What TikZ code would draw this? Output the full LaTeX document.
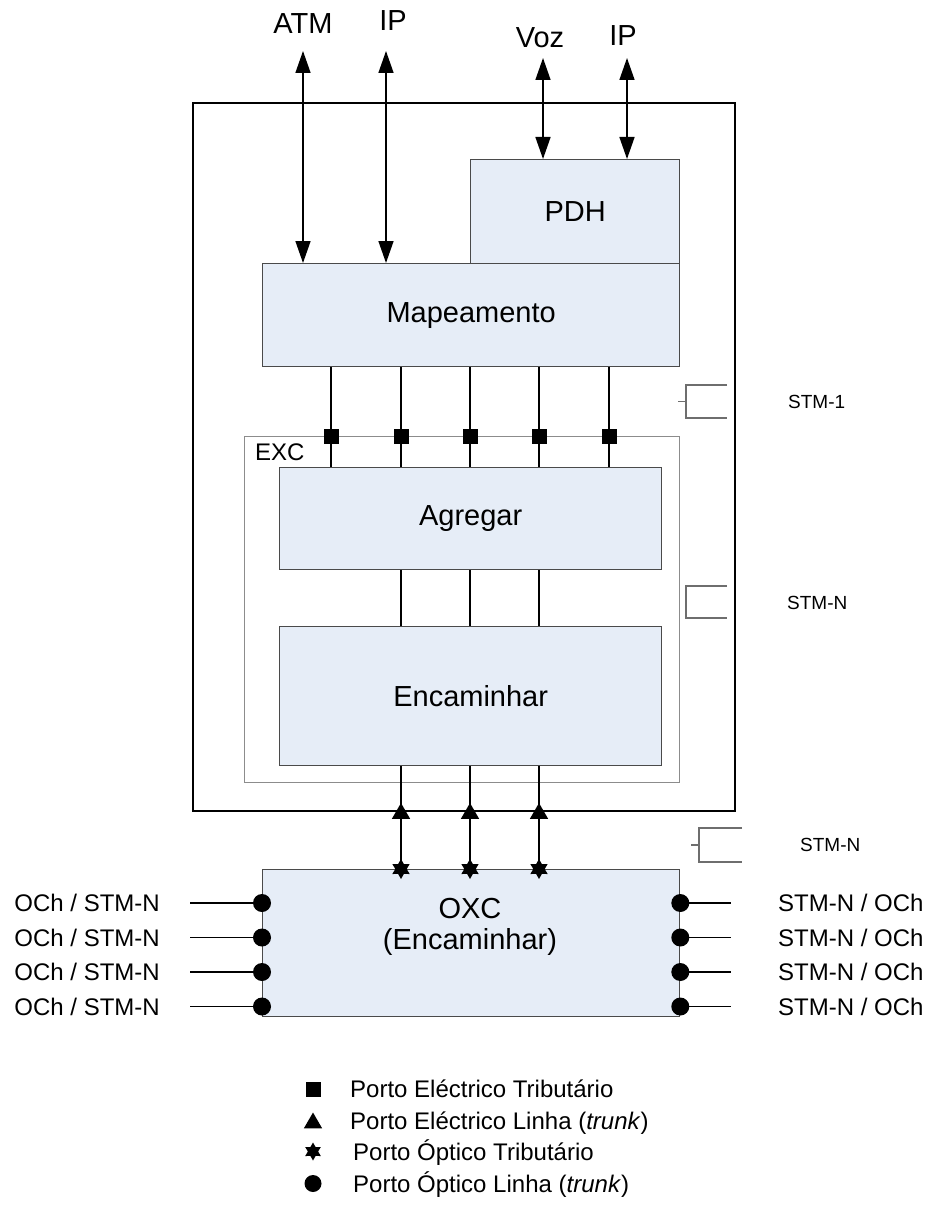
\documentclass[tikz,border=0pt]{standalone}
\usepackage{fontspec}
\setmainfont{Liberation Sans}
\usetikzlibrary{shapes.geometric,arrows.meta}

\definecolor{boxfill}{HTML}{E6EDF7}
\definecolor{boxline}{HTML}{4A4A4A}
\definecolor{excline}{HTML}{8C8C8C}
\definecolor{brk}{HTML}{6E6E6E}

\begin{document}
\begin{tikzpicture}[x=1pt,y=-1pt,
  block/.style={draw=boxline, line width=1.3pt, fill=boxfill, inner sep=0pt, anchor=north west,
                font=\fontsize{29}{31}\selectfont},
  frame/.style={draw=black, line width=2pt, inner sep=0pt, anchor=north west},
  excbox/.style={draw=excline, line width=1.3pt, inner sep=0pt, anchor=north west},
  conn/.style={draw=black, line width=1.5pt},
  biarrow/.style={conn, {Triangle[width=15pt,length=22pt]}-{Triangle[width=15pt,length=22pt]}},
  bigtxt/.style={font=\fontsize{29}{31}\selectfont, inner sep=0pt},
  sidetxt/.style={font=\fontsize{24}{28}\selectfont, inner sep=0pt},
  smalltxt/.style={font=\fontsize{19}{23}\selectfont, inner sep=0pt},
  tribsq/.style={rectangle, fill=black, minimum size=15pt, inner sep=0pt},
  trunktri/.style={regular polygon, regular polygon sides=3, fill=black, minimum size=21pt, inner sep=0pt},
  optstar/.style={star, star points=6, star point ratio=1.75, fill=black, minimum size=20pt, inner sep=0pt},
  optdot/.style={circle, fill=black, minimum size=18pt, inner sep=0pt},
  bracket/.style={draw=brk, line width=1.1pt}
]
\useasboundingbox (0,0) rectangle (929,1209);

% equipment frame and functional blocks
\node[frame, minimum width=542pt, minimum height=708pt] (outer) at (192,102) {};
\node[block, minimum width=209pt, minimum height=104pt] (pdh) at (470,159) {PDH};
\node[block, minimum width=417pt, minimum height=103pt] (map) at (262,263) {Mapeamento};
\node[excbox, minimum width=435pt, minimum height=346pt] (exc) at (244,436) {};
\node[sidetxt, anchor=base west] (exclbl) at (255,460) {EXC};
\node[block, minimum width=382pt, minimum height=102pt] (agr) at (279,467) {Agregar};
\node[block, minimum width=382pt, minimum height=139pt] (enc) at (279,626) {Encaminhar};
\node[block, minimum width=417pt, minimum height=147pt] (oxc) at (262,869) {};
\node[bigtxt, align=center] (oxclbl) at (470,927) {OXC\\(Encaminhar)};

% client interfaces
\node[bigtxt, anchor=base] (atm) at (303,34) {ATM};
\node[bigtxt, anchor=base] (ip1) at (393,31) {IP};
\node[bigtxt, anchor=base] (voz) at (540,48) {Voz};
\node[bigtxt, anchor=base] (ip2) at (623,46) {IP};
\coordinate (atmtop) at (303,51);
\coordinate (ip1top) at (386,51);
\coordinate (voztop) at (543,58);
\coordinate (ip2top) at (627,58);
\draw[biarrow] (atmtop) -- (atmtop |- map.north);
\draw[biarrow] (ip1top) -- (ip1top |- map.north);
\draw[biarrow] (voztop) -- (voztop |- pdh.north);
\draw[biarrow] (ip2top) -- (ip2top |- pdh.north);

% tributary ports between mapping and aggregation
\foreach \x/\n in {331/1,401/2,470/3,539/4,609/5}{
  \coordinate (tp\n) at (\x,436);
  \draw[conn] (map.south -| tp\n) -- (agr.north -| tp\n);
  \node[tribsq] (sq\n) at (tp\n) {};
}

% aggregation to routing, and line ports towards the OXC
\foreach \x/\n in {401/1,470/2,539/3}{
  \coordinate (lp\n) at (\x,810);
  \draw[conn] (agr.south -| lp\n) -- (enc.north -| lp\n);
  \draw[conn] (enc.south -| lp\n) -- (oxc.north -| lp\n);
  \node[trunktri] (tri\n) at (\x,813.5) {};
  \node[optstar] (st\n) at (oxc.north -| lp\n) {};
}

% optical line ports of the OXC
\foreach \y/\n in {903/1,937.5/2,972/3,1006.5/4}{
  \coordinate (lw\n) at (190,\y);
  \coordinate (rw\n) at (731,\y);
  \draw[conn] (lw\n) -- (oxc.west |- lw\n);
  \draw[conn] (oxc.east |- rw\n) -- (rw\n);
  \node[optdot] (ld\n) at (oxc.west |- lw\n) {};
  \node[optdot] (rd\n) at (oxc.east |- rw\n) {};
  \node[sidetxt, anchor=base east] (ll\n) at (160,\y+8.6) {OCh / STM-N};
  \node[sidetxt, anchor=base west] (rl\n) at (778,\y+8.6) {STM-N / OCh};
}

% signal level brackets
\draw[bracket] (727,385) -- (686,385) -- (686,418) -- (727,418);
\draw[bracket] (678,401.5) -- (686,401.5);
\node[smalltxt, anchor=base west] (stm1) at (788,408.5) {STM-1};
\draw[bracket] (727,586) -- (686,586) -- (686,618) -- (727,618);
\node[smalltxt, anchor=base west] (stmn1) at (787,609.5) {STM-N};
\draw[bracket] (742,828) -- (699,828) -- (699,862) -- (742,862);
\draw[bracket] (691,845) -- (699,845);
\node[smalltxt, anchor=base west] (stmn2) at (800,851.5) {STM-N};

% legend
\node[tribsq] (kq) at (313,1089) {};
\node[sidetxt, anchor=base west] (kqt) at (350,1097.5) {Porto Eléctrico Tributário};
\node[trunktri] (kt) at (313,1123) {};
\node[sidetxt, anchor=base west] (ktt) at (350,1129) {Porto Eléctrico Linha (\textit{trunk})};
\node[optstar, minimum size=18pt] (ks) at (313,1151.5) {};
\node[sidetxt, anchor=base west] (kst) at (353,1160) {Porto Óptico Tributário};
\node[optdot, minimum size=17pt] (kc) at (313,1183.5) {};
\node[sidetxt, anchor=base west] (kct) at (353,1192) {Porto Óptico Linha (\textit{trunk})};
\end{tikzpicture}
\end{document}
